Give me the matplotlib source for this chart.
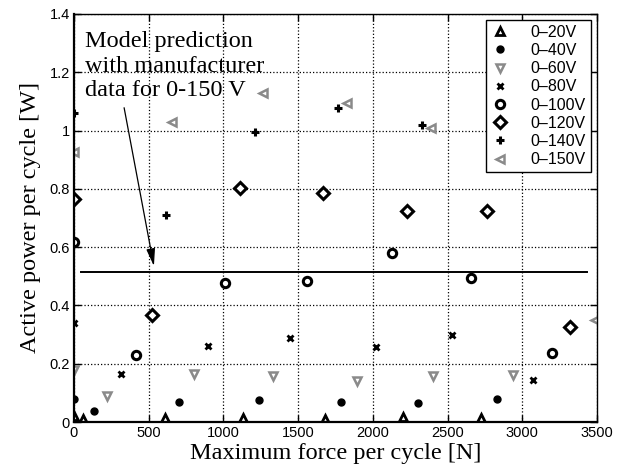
import matplotlib
matplotlib.use("Agg")
import matplotlib.pyplot as plt
from matplotlib.ticker import FuncFormatter

# measured points, one list pair per voltage range
v20_x = [0, 60, 610, 1130, 1680, 2200, 2725]
v20_y = [0.020, 0.010, 0.015, 0.015, 0.012, 0.018, 0.015]
v40_x = [0, 135, 700, 1235, 1790, 2305, 2830]
v40_y = [0.079, 0.038, 0.069, 0.075, 0.069, 0.066, 0.078]
v60_x = [0, 220, 800, 1330, 1895, 2405, 2940]
v60_y = [0.178, 0.089, 0.164, 0.158, 0.142, 0.157, 0.160]
v80_x = [0, 313, 900, 1446, 2021, 2527, 3073]
v80_y = [0.339, 0.164, 0.261, 0.288, 0.257, 0.298, 0.144]
v100_x = [0, 415, 1011, 1560, 2127, 2655, 3200]
v100_y = [0.618, 0.230, 0.478, 0.485, 0.579, 0.493, 0.237]
v120_x = [0, 520, 1111, 1668, 2229, 2764, 3320]
v120_y = [0.765, 0.367, 0.803, 0.785, 0.724, 0.724, 0.327]
v140_x = [0, 615, 1212, 1767, 2329]
v140_y = [1.060, 0.710, 0.995, 1.078, 1.018]
v150_x = [0, 656, 1265, 1827, 2390, 3487]
v150_y = [0.927, 1.030, 1.129, 1.094, 1.008, 0.350]

labels = ["0\u201320V", "0\u201340V", "0\u201360V", "0\u201380V",
          "0\u2013100V", "0\u2013120V", "0\u2013140V", "0\u2013150V"]

# model prediction line (manufacturer data, 0-150 V)
model_x = [50, 3430]
model_y = [0.515, 0.515]

serif = "Liberation Serif"
sans = "Liberation Sans"

fig = plt.figure(figsize=(6.19, 4.66), dpi=100)
ax = fig.add_axes([0.1195, 0.0944, 0.845, 0.8756])

gray = "#8a8a8a"
ax.plot(v20_x, v20_y, ls="none", marker="^", ms=6, mfc="white", mec="black", mew=2, label=labels[0])
ax.plot(v40_x, v40_y, ls="none", marker="o", ms=5, mfc="black", mec="black", label=labels[1])
ax.plot(v60_x, v60_y, ls="none", marker="v", ms=6, mfc="white", mec=gray, mew=1.8, label=labels[2])
ax.plot(v80_x, v80_y, ls="none", marker="x", ms=5, mec="black", mew=2, label=labels[3])
ax.plot(v100_x, v100_y, ls="none", marker="o", ms=6, mfc="white", mec="black", mew=2.2, label=labels[4])
ax.plot(v120_x, v120_y, ls="none", marker="D", ms=6, mfc="white", mec="black", mew=2.2, label=labels[5])
ax.plot(v140_x, v140_y, ls="none", marker="+", ms=6, mec="black", mew=2.2, label=labels[6])
ax.plot(v150_x, v150_y, ls="none", marker="<", ms=6, mfc="white", mec=gray, mew=1.8, label=labels[7])

ax.plot(model_x, model_y, color="black", lw=1.4)

ax.set_xlim(0, 3500)
ax.set_ylim(0, 1.4)
ax.set_xticks(range(0, 3501, 500))
ax.set_yticks([0, 0.2, 0.4, 0.6, 0.8, 1.0, 1.2, 1.4])
ax.yaxis.set_major_formatter(FuncFormatter(lambda v, p: "0" if v == 0 else ("1" if v == 1 else f"{v:g}")))
ax.grid(True, color="black", ls=":", lw=0.9)
ax.tick_params(direction="in", top=True, right=True, length=5, labelsize=10.5, width=1, pad=3)
for t in ax.get_xticklabels() + ax.get_yticklabels():
    t.set_fontfamily(sans)
for s in ax.spines.values():
    s.set_linewidth(1.0)
ax.spines["left"].set_linewidth(1.6)
ax.spines["bottom"].set_linewidth(1.6)

ax.set_xlabel("Maximum force per cycle [N]", fontfamily=serif, fontsize=17.5, labelpad=2)
ax.set_ylabel("Active power per cycle [W]", fontfamily=serif, fontsize=17.5, labelpad=6)

ax.annotate("Model prediction\nwith manufacturer\ndata for 0-150 V",
            xy=(535, 0.535), xytext=(75, 1.34),
            fontfamily=serif, fontsize=17.5, va="top", ha="left", linespacing=1.2,
            arrowprops=dict(arrowstyle="-|>,head_length=0.6,head_width=0.15", color="black",
                            lw=0.9, shrinkA=3, shrinkB=0, relpos=(0.21, 0.0)))

leg = ax.legend(loc="upper right", bbox_to_anchor=(0.988, 0.985), frameon=True, fancybox=False,
                edgecolor="black", framealpha=1, prop={"family": sans, "size": 11.5},
                handlelength=1.2, handletextpad=1.3, labelspacing=0.2, borderpad=0.3,
                borderaxespad=0)
leg.get_frame().set_linewidth(1.0)

fig.savefig("out.png", dpi=100)
